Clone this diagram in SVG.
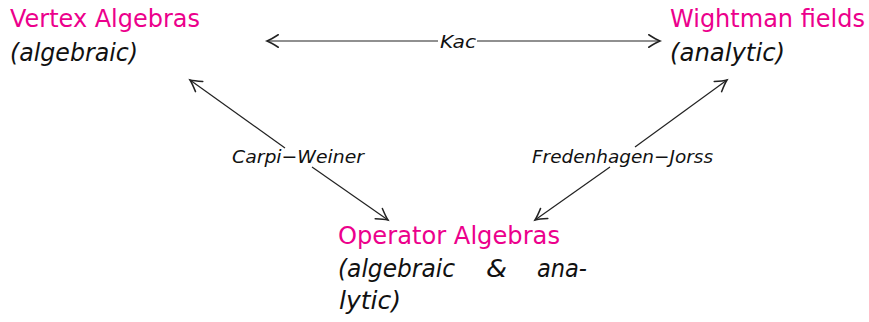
<svg xmlns="http://www.w3.org/2000/svg" width="869" height="322" viewBox="0 0 869 322">
<defs>
<marker id="arr" markerUnits="userSpaceOnUse" markerWidth="20" markerHeight="20" refX="0" refY="0" viewBox="-12 -8 14 16" orient="auto" overflow="visible">
<path d="M -9 -5 Q -3 -1.2 0 0 Q -3 1.2 -9 5" fill="none" stroke="#222" stroke-width="1.2" stroke-linecap="round"/>
</marker>
<style>
.title{font-family:"DejaVu Sans","Liberation Sans",sans-serif;font-size:24px;fill:#ec008c}
.sub{font-family:"DejaVu Sans","Liberation Sans",sans-serif;font-size:24px;font-style:italic;fill:#111}
.lbl{font-family:"DejaVu Sans","Liberation Sans",sans-serif;font-size:18.5px;font-style:italic;fill:#111}
.edge{fill:none;stroke:#222;stroke-width:1.2;marker-end:url(#arr)}
</style>
</defs>
<rect width="869" height="322" fill="#fff"/>
<g id="vertex">
<text class="title" x="10" y="27" textLength="190" lengthAdjust="spacingAndGlyphs">Vertex Algebras</text>
<text class="sub" x="10" y="61" textLength="128" lengthAdjust="spacingAndGlyphs">(algebraic)</text>
</g>
<g id="wightman">
<text class="title" x="670" y="27" textLength="195" lengthAdjust="spacingAndGlyphs">Wightman fields</text>
<text class="sub" x="670" y="61" textLength="115" lengthAdjust="spacingAndGlyphs">(analytic)</text>
</g>
<g id="operator">
<text class="title" x="338" y="244" textLength="222" lengthAdjust="spacingAndGlyphs">Operator Algebras</text>
<text class="sub" x="338" y="277" textLength="117" lengthAdjust="spacingAndGlyphs">(algebraic</text>
<text class="sub" x="486" y="277" textLength="21" lengthAdjust="spacingAndGlyphs">&amp;</text>
<text class="sub" x="537" y="277" textLength="50" lengthAdjust="spacingAndGlyphs">ana-</text>
<text class="sub" x="339" y="309" textLength="62" lengthAdjust="spacingAndGlyphs">lytic)</text>
</g>
<g id="connectors">
<path class="edge" d="M 438 41 L 267 41"/>
<path class="edge" d="M 477 41 L 660 41"/>
<text class="lbl" x="440" y="48" textLength="36" lengthAdjust="spacingAndGlyphs">Kac</text>
<path class="edge" d="M 285 148 L 190 80"/>
<path class="edge" d="M 312 167 L 388 220"/>
<text class="lbl" x="232" y="163" textLength="132" lengthAdjust="spacingAndGlyphs">Carpi−Weiner</text>
<path class="edge" d="M 635 147 L 727 80"/>
<path class="edge" d="M 610 167 L 535 220"/>
<text class="lbl" x="532" y="163" textLength="181" lengthAdjust="spacingAndGlyphs">Fredenhagen−Jorss</text>
</g>
</svg>
